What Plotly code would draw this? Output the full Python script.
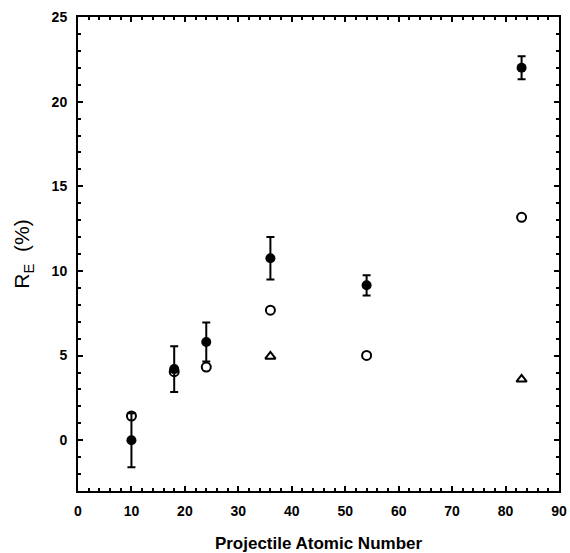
import plotly.graph_objects as go

# Data
z_filled = [10, 18, 24, 36, 54, 83]
re_filled = [0.0, 4.2, 5.8, 10.75, 9.15, 22.0]
err_filled = [1.6, 1.35, 1.15, 1.25, 0.6, 0.68]

z_open = [10, 18, 24, 36, 54, 83]
re_open = [1.43, 4.05, 4.32, 7.68, 5.01, 13.17]

z_tri = [36, 83]
re_tri = [4.95, 3.6]

fig = go.Figure()
fig.add_trace(go.Scatter(
    x=z_filled, y=re_filled, mode="markers",
    marker=dict(symbol="circle", size=10, color="black"),
    error_y=dict(type="data", array=err_filled, visible=True,
                 color="black", thickness=2, width=4),
    showlegend=False))
fig.add_trace(go.Scatter(
    x=z_open, y=re_open, mode="markers",
    marker=dict(symbol="circle-open", size=9, color="black",
                line=dict(width=2, color="black")),
    showlegend=False))
fig.add_trace(go.Scatter(
    x=z_tri, y=re_tri, mode="markers",
    marker=dict(symbol="triangle-up-open", size=9, color="black",
                line=dict(width=2, color="black")),
    showlegend=False))

axis_common = dict(
    showline=True, linecolor="black", linewidth=2, mirror="allticks",
    ticks="inside", ticklen=5, tickwidth=2, tickcolor="black",
    showgrid=False, zeroline=False, automargin=False,
    tickfont=dict(family="Liberation Sans", size=14, color="black", weight="bold"),
)

fig.update_xaxes(
    range=[0, 90], tick0=0, dtick=10,
    minor=dict(dtick=2, ticks="inside", ticklen=3, tickwidth=1.5, tickcolor="black"),
    title=dict(text="Projectile Atomic Number", standoff=22,
               font=dict(family="Liberation Sans", size=17, color="black", weight="bold")),
    ticklabelstandoff=6,
    **axis_common)
fig.update_yaxes(
    range=[-3, 25], tick0=0, dtick=5,
    minor=dict(dtick=1, ticks="inside", ticklen=3, tickwidth=1.5, tickcolor="black"),
    title=dict(text="R<sub>E</sub>  (%)", standoff=16,
               font=dict(family="Liberation Sans", size=21, color="black")),
    ticklabelstandoff=6,
    **axis_common)

fig.update_layout(
    width=570, height=553,
    margin=dict(l=78, r=11, t=17, b=62),
    plot_bgcolor="white", paper_bgcolor="white",
)

fig.write_html("out.html", config={"displayModeBar": False},
               post_script="document.body.style.margin='0';")
